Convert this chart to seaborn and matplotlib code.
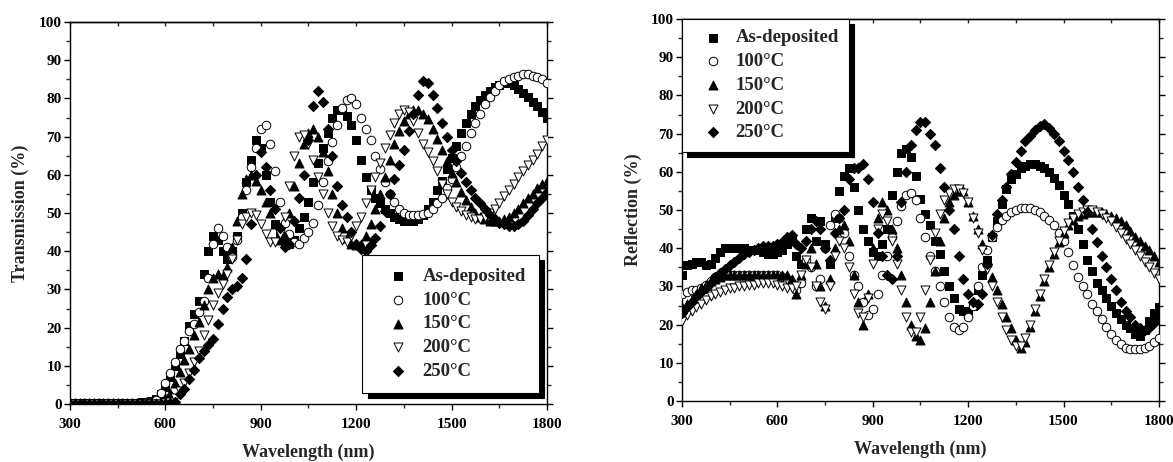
"""
Transmission and reflection spectra of the films, as-deposited and annealed
(100-250 degC). Two scatter panels side by side, saved as out.png.
"""

import matplotlib
matplotlib.use("Agg")
import matplotlib.pyplot as plt
from matplotlib.ticker import MultipleLocator
import seaborn as sns

#####################################
## Data (15 nm sampling)
#####################################

wavelength = list(range(300, 1801, 15))
sample_labels = ['As-deposited', '100°C', '150°C', '200°C', '250°C']

# Transmission (%)
trans_as_dep = [
    0.3, 0.3, 0.3, 0.3, 0.3, 0.3, 0.3, 0.3, 0.3, 0.3,
    0.3, 0.3, 0.3, 0.3, 0.3, 0.4, 0.5, 0.7, 1.2, 2.5,
    4.5, 7, 10, 13, 16.5, 20.5, 23.5, 27, 34, 40,
    44, 43, 40, 38, 40, 44, 50, 58, 64, 69,
    67, 60, 53, 47, 44, 42, 42, 43, 46, 49,
    53, 58, 63, 67, 71, 75, 77, 77, 75.5, 73,
    69, 64, 59.5, 56, 54, 52.5, 51, 50, 49, 48.5,
    48, 48, 48, 48.5, 49.5, 51, 53, 56, 58.5, 61.5,
    64.5, 67.5, 71, 73.5, 76, 78, 79.5, 81, 82, 83,
    83.5, 84, 84, 83.5, 82.5, 81.5, 80.5, 79, 78, 76.5,
    75]
trans_100 = [
    0.2, 0.2, 0.2, 0.2, 0.2, 0.2, 0.2, 0.2, 0.2, 0.2,
    0.2, 0.2, 0.2, 0.2, 0.2, 0.3, 0.4, 0.6, 1, 3,
    5.5, 8, 11, 14.5, 16.5, 19, 21, 24, 27, 33,
    42, 46, 44, 41, 38.5, 43, 49, 56, 62, 67,
    72, 73, 68, 61, 53, 47.5, 44.5, 42.5, 42, 43.5,
    45, 47.5, 52, 58, 63.5, 68.5, 73, 77.5, 79.5, 80,
    78.5, 75, 72, 69, 65, 61.5, 58, 55, 53, 51,
    50, 49.5, 49.5, 49.5, 49.7, 50, 51, 52.5, 54, 56.5,
    59, 62, 65, 67.5, 71, 73.5, 76, 78.5, 80.5, 82,
    83.5, 84.5, 85, 85.5, 86, 86.5, 86.5, 86, 85.5, 85,
    84]
trans_150 = [
    0.2, 0.2, 0.2, 0.2, 0.2, 0.2, 0.2, 0.2, 0.2, 0.2,
    0.2, 0.2, 0.2, 0.2, 0.2, 0.2, 0.2, 0.2, 0.3, 0.6,
    1.5, 3, 5.5, 8.5, 11.5, 14.5, 18, 21.5, 26, 30,
    33, 34, 33.5, 36, 41, 48, 55, 59, 60, 58.5,
    56, 53, 50, 47, 43, 44, 50, 57, 63, 68,
    71, 72, 70, 66, 61, 55, 50, 46, 43.5, 42,
    41.5, 42, 44, 47, 51, 55, 59.5, 64, 68, 71.5,
    74, 76, 77, 77, 76, 74.5, 72, 69.5, 66.5, 63.5,
    60.5, 58, 55.5, 53.5, 51.5, 50, 49, 48.5, 48, 48,
    48, 48.5, 49, 50, 51, 52.5, 54, 55, 56.5, 57.5,
    58.5]
trans_200 = [
    0.1, 0.1, 0.1, 0.1, 0.1, 0.1, 0.1, 0.1, 0.1, 0.1,
    0.1, 0.1, 0.1, 0.1, 0.1, 0.1, 0.1, 0.1, 0.1, 0.1,
    0.2, 0.5, 1.5, 3.5, 5.5, 8, 11, 14, 18, 22,
    26, 29, 31.5, 34, 38, 43, 47, 49, 50, 49.5,
    47, 44.5, 42.5, 42.5, 44.5, 49, 57, 65, 70, 70.5,
    68, 64, 59.5, 55, 50, 46.5, 44, 43, 42.5, 44,
    46.5, 49, 52.5, 56, 59.5, 63, 67, 70.5, 73.5, 76,
    77, 76.5, 74, 71, 68, 66, 63.5, 61, 57.5, 55,
    53, 51.5, 50.5, 49.5, 49, 48.5, 48.5, 49, 50, 51,
    52.5, 54.5, 56, 57.5, 59.5, 61, 62.5, 64, 65.5, 67.5,
    69]
trans_250 = [
    0.1, 0.1, 0.1, 0.1, 0.1, 0.1, 0.1, 0.1, 0.1, 0.1,
    0.1, 0.1, 0.1, 0.1, 0.1, 0.1, 0.1, 0.1, 0.1, 0.1,
    0.1, 0.2, 0.5, 2.5, 4, 6.5, 9, 12, 14, 15.5,
    17, 21, 25, 28, 30, 31, 33, 38, 47, 60,
    66, 62, 56, 51, 46, 41, 42, 48, 54, 60,
    69, 78, 82, 79, 72, 65, 57, 52, 49, 45,
    42, 40.5, 40, 41.5, 43.5, 46.5, 50.5, 55, 59, 62.5,
    66.5, 71.5, 76, 81, 84.5, 84, 81, 77.5, 73.5, 70,
    66.5, 63.5, 60.5, 58, 56, 54, 52.5, 51, 49.5, 48.5,
    47.5, 47, 46.5, 46.5, 47, 48, 49.5, 51, 52.5, 54,
    55.5]

# Reflection (%)
refl_as_dep = [
    33, 35.5, 36, 36.5, 36.5, 35.5, 36, 37.5, 39, 40,
    40, 40, 40, 40, 39.5, 39.5, 39.5, 39, 38.5, 38.5,
    39, 39.5, 41, 42, 38, 36, 45, 48, 42, 47,
    41, 36, 48, 55, 59, 61, 56, 50, 45, 42,
    39, 38, 41, 45, 54, 60, 65, 66, 64, 59,
    53, 49, 46, 42, 38.5, 34, 30, 27, 24, 23.5,
    23.5, 25, 29, 33, 37, 43, 47, 51.5, 55.5, 58,
    59.5, 61, 61.5, 62, 62, 61.5, 61, 60, 58.5, 56.5,
    54, 51.5, 48.5, 45, 41, 37, 34, 31, 29, 27,
    25, 23, 21.5, 20, 19, 17.5, 17, 18.5, 21, 23,
    24.5]
refl_100 = [
    28, 28.5, 29, 29, 29.5, 30.5, 31.5, 32.5, 33, 33,
    33, 33, 33, 33, 33, 33, 33, 33, 33, 33,
    33, 32.5, 32, 31, 29, 31, 37, 35, 30, 32,
    40, 46, 49, 48, 44, 38, 33, 30, 26, 22.5,
    24, 28, 33, 38, 43, 47, 51, 54, 54.5, 52.5,
    48, 43, 38, 34, 30, 26, 22, 19.5, 18.5, 19.5,
    22, 25, 30, 35, 39.5, 43, 45.5, 47.5, 48.5, 49.5,
    50, 50.5, 50.5, 50.5, 50, 49.5, 48.5, 47.5, 46, 44,
    42, 39, 35.5, 32.5, 30, 28, 25.5, 23.5, 21.5, 19.5,
    17.5, 16, 15, 14, 13.5, 13.5, 13.5, 14, 14.5, 15.5,
    16.5]
refl_150 = [
    24.5, 25.5, 26.5, 28, 29.5, 30.5, 31.5, 32, 32.5, 33,
    33, 33, 33, 33, 33, 33, 33, 33, 33, 33,
    33, 33, 33, 32, 28, 33, 36, 40, 36, 30,
    25, 32, 40, 45, 46, 42, 33, 26, 20, 28,
    40, 48, 52, 50, 45, 40, 33, 26, 20, 17,
    16, 19, 26, 34, 42, 48, 52, 54, 55, 55,
    52, 48.5, 45, 41, 36.5, 32.5, 29, 25.5, 22, 19,
    16, 14, 15.5, 19.5, 23.5, 27.5, 31.5, 35, 38.5, 41.5,
    44, 46, 47.5, 48.5, 49, 49.5, 49.5, 49.5, 49.5, 49,
    48.5, 48, 47, 46, 44.5, 43, 42, 40.5, 39.5, 38,
    36.5]
refl_200 = [
    21, 22.5, 23.5, 24.5, 25.5, 26.5, 27.5, 28, 28.5, 29,
    29.5, 29.5, 30, 30, 30.5, 30.5, 31, 31, 31, 31,
    30.5, 30, 29.5, 29.5, 30, 33, 37, 35, 30, 26,
    24, 30, 38, 42, 40, 35, 28, 23, 22, 27,
    36, 45, 49, 47, 42, 36, 29, 22, 18, 18,
    22, 29, 37, 44, 49, 52.5, 54.5, 55.5, 55.5, 54.5,
    52, 48, 44, 39.5, 34.5, 30, 26, 22, 18.5, 16,
    14.5, 14.5, 16.5, 20, 24, 28, 32, 35.5, 39, 42,
    44.5, 46.5, 48, 49, 49.5, 50, 50, 49.5, 49, 48,
    47, 45.5, 44, 42.5, 41, 39.5, 38, 36.5, 35, 33.5,
    32]
refl_250 = [
    23, 24.5, 26, 27.5, 28.5, 29.5, 31, 32.5, 33.5, 34.5,
    35.5, 36.5, 37.5, 38.5, 39, 39.5, 40, 40.5, 40.5, 40.5,
    41, 41.5, 43, 43.5, 41, 40, 42, 45, 47, 45,
    40, 37, 44, 48, 50, 58, 61, 61, 62, 58,
    52, 44, 38, 33, 32, 38, 52, 60, 67, 71,
    73, 73, 70, 67, 61, 56, 50, 45, 38, 32,
    28, 26, 25.5, 28, 36, 43.5, 49, 52.5, 56, 59.5,
    62.5, 65.5, 68, 69.5, 71, 72, 72.5, 71.5, 70, 68,
    65.5, 63, 60, 56, 52.5, 49.5, 45, 41.5, 38, 35,
    32, 29, 26, 23.5, 22, 20, 19, 18.5, 19, 20.5,
    22]

trans_series = [trans_as_dep, trans_100, trans_150, trans_200, trans_250]
refl_series = [refl_as_dep, refl_100, refl_150, refl_200, refl_250]

# marker, face colour and size per sample
marker_style = {
    'As-deposited': ('s', 'black', 32),
    '100°C': ('o', 'white', 38),
    '150°C': ('^', 'black', 42),
    '200°C': ('v', 'white', 42),
    '250°C': ('D', 'black', 27),
}

#####################################
## Style
#####################################

sns.set_theme(style='ticks')
plt.rcParams['font.family'] = ['Liberation Serif', 'DejaVu Serif']
plt.rcParams['font.weight'] = 'bold'
plt.rcParams['axes.labelweight'] = 'bold'
plt.rcParams['axes.linewidth'] = 1.0
plt.rcParams['axes.edgecolor'] = 'black'

fig = plt.figure(figsize=(11.73, 4.62), dpi=100)
ax_t = fig.add_axes([0.0597, 0.1255, 0.4066, 0.8268])
ax_r = fig.add_axes([0.5814, 0.1320, 0.4066, 0.8268])


def draw_panel(ax, series):
    for label, values in zip(sample_labels, series):
        marker, face, size = marker_style[label]
        sns.scatterplot(x=wavelength, y=values, ax=ax, marker=marker, s=size,
                        color=face, edgecolor='black', linewidth=0.7,
                        label=label, legend=False, zorder=3)

    ax.set_xlim(300, 1800)
    ax.set_ylim(0, 100)
    ax.xaxis.set_major_locator(MultipleLocator(300))
    ax.xaxis.set_minor_locator(MultipleLocator(150))
    ax.yaxis.set_major_locator(MultipleLocator(10))
    ax.yaxis.set_minor_locator(MultipleLocator(5))
    ax.tick_params(axis='both', which='major', direction='out', length=4,
                   width=1, labelsize=11, colors='black')
    ax.tick_params(axis='both', which='minor', direction='out', length=3, width=1)
    ax.tick_params(axis='x', which='major', pad=6)
    ax.tick_params(axis='y', which='major', pad=2)
    ax.tick_params(axis='y', which='both', right=True)
    ax.tick_params(axis='x', which='both', top=False)
    for spine in ax.spines.values():
        spine.set_visible(True)
        spine.set_linewidth(1.0)

    # inward ticks along the top edge
    top = ax.secondary_xaxis('top')
    top.xaxis.set_major_locator(MultipleLocator(150))
    top.tick_params(direction='in', length=3, width=1, labeltop=False)

    ax.set_xlabel('Wavelength (nm)', fontsize=13, fontweight='bold', labelpad=9)


draw_panel(ax_t, trans_series)
ax_t.set_ylabel('Transmission (%)', fontsize=13, fontweight='bold', labelpad=7)

draw_panel(ax_r, refl_series)
ax_r.set_ylabel('Reflection (%)', fontsize=13, fontweight='bold', labelpad=6)

legend_kw = dict(frameon=True, fancybox=False, framealpha=1, edgecolor='black',
                 shadow={'ox': 3.8, 'oy': -3.8, 'color': 'black', 'alpha': 1},
                 prop={'size': 13.5, 'weight': 'bold'}, labelspacing=0.35,
                 handletextpad=0.1, borderaxespad=0, markerscale=1.0)

handles, labels = ax_t.get_legend_handles_labels()
leg_t = ax_t.legend(handles, labels, loc='lower right', bbox_to_anchor=(0.983, 0.029),
                    borderpad=0.7, handlelength=2.4, **legend_kw)
leg_t.get_frame().set_linewidth(0.8)
leg_t.set_zorder(10)

handles, labels = ax_r.get_legend_handles_labels()
leg_r = ax_r.legend(handles, labels, loc='upper left', bbox_to_anchor=(0.0, 1.0),
                    borderpad=0.55, handlelength=2.2, **legend_kw)
leg_r.get_frame().set_linewidth(0.8)
leg_r.set_zorder(10)

plt.savefig('out.png', dpi=100, facecolor='white')
